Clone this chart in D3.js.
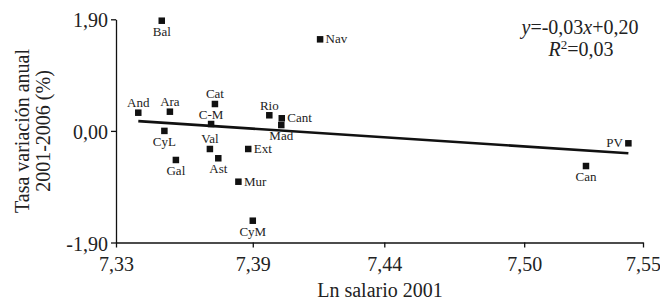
<!DOCTYPE html>
<html><head><meta charset="utf-8">
<script src="https://cdn.jsdelivr.net/npm/d3@7"></script>
<style>
html,body{margin:0;padding:0;background:#fff;}
svg{display:block;font-family:"Liberation Serif","Times New Roman",serif;}
</style></head><body>
<svg id="chart" width="660" height="302"></svg>
<script>
// ---- data ----
const regions   = ["And","Ara","Ast","Bal","Can","Cant","CyL","C-M","Cat","Val","Ext","Gal","Mad","Mur","Nav","PV","Rio","CyM"];
const lnSalary  = [7.3393,7.3525,7.3727,7.3491,7.5262,7.3992,7.3502,7.3697,7.3713,7.3692,7.3852,7.3550,7.3990,7.3811,7.4152,7.5439,7.3940,7.3871];
const growth    = [0.31,0.327,-0.466,1.876,-0.598,0.215,0.00,0.117,0.458,-0.308,-0.308,-0.495,0.100,-0.865,1.559,-0.211,0.266,-1.529];
const labelSide = ["above","above","below","below","below","right","below","above","above","above","right","below","below","right","right","left","above","below"];
const xTickValues = [7.33, 7.3871, 7.4420, 7.5004, 7.55];
const xTickLabels = ["7,33","7,39","7,44","7,50","7,55"];
const yTickValues = [-1.9, 0, 1.9];
const yTickLabels = ["-1,90","0,00","1,90"];
const xTitle = "Ln salario 2001";
const yTitle = ["Tasa variación anual","2001-2006 (%)"];

// ---- chart ----
const svg = d3.select("#chart");
const x = d3.scaleLinear().domain([7.33, 7.55]).range([116, 643]);
const y = d3.scaleLinear().domain([-1.9, 1.9]).range([242.5, 19.3]);

const gx = svg.append("g").attr("transform", `translate(0,${y(-1.9)})`)
  .call(d3.axisBottom(x).tickValues(xTickValues).tickSize(5).tickSizeOuter(0)
    .tickFormat((d,i)=>xTickLabels[i]));
gx.selectAll("text").attr("y", 28.5).attr("dy", 0).attr("font-size", 20)
  .attr("fill","#222").attr("font-family", '"Liberation Serif",serif');

const gy = svg.append("g").attr("transform", `translate(${x(7.33)},0)`)
  .call(d3.axisLeft(y).tickValues(yTickValues).tickSize(5).tickSizeOuter(0)
    .tickFormat((d,i)=>yTickLabels[i]));
gy.selectAll("text").attr("x", -8).attr("dy", "0.38em").attr("font-size", 20)
  .attr("fill","#222").attr("font-family", '"Liberation Serif",serif');

svg.selectAll(".domain, .tick line").attr("stroke", "#111").attr("stroke-width", 1.3);

// axis titles
svg.append("text").attr("x", 380).attr("y", 297).attr("text-anchor", "middle")
  .attr("font-size", 20).attr("fill", "#222").text(xTitle);
const yt = svg.append("text").attr("transform", "translate(29,131) rotate(-90)")
  .attr("text-anchor", "middle").attr("font-size", 20).attr("fill", "#222");
yt.selectAll("tspan").data(yTitle).join("tspan")
  .attr("x", 0).attr("dy", (d,i)=> i ? 21 : 0).text(d=>d);

// regression line (OLS from data)
const n = lnSalary.length;
const mx = d3.mean(lnSalary), my = d3.mean(growth);
let sxy = 0, sxx = 0;
for (let i = 0; i < n; i++) { sxy += (lnSalary[i]-mx)*(growth[i]-my); sxx += (lnSalary[i]-mx)**2; }
const slope = sxy / sxx, icpt = my - slope*mx;
const [xmin, xmax] = d3.extent(lnSalary);
svg.append("line")
  .attr("x1", x(xmin)).attr("y1", y(icpt + slope*xmin))
  .attr("x2", x(xmax)).attr("y2", y(icpt + slope*xmax))
  .attr("stroke", "#111").attr("stroke-width", 2.6);

// points
const pts = regions.map((r,i)=>({r, xv: lnSalary[i], yv: growth[i], side: labelSide[i]}));
const s = 6.5;
svg.append("g").selectAll("rect").data(pts).join("rect")
  .attr("x", d=>x(d.xv)-s/2).attr("y", d=>y(d.yv)-s/2)
  .attr("width", s).attr("height", s).attr("fill", "#111");

svg.append("g").selectAll("text").data(pts).join("text")
  .attr("font-size", 13).attr("fill", "#222")
  .attr("text-anchor", d=> d.side==="right" ? "start" : d.side==="left" ? "end" : "middle")
  .attr("x", d=> x(d.xv) + (d.side==="right" ? 5.5 : d.side==="left" ? -5.5 : 0))
  .attr("y", d=> y(d.yv) + (d.side==="above" ? -5.5 : d.side==="below" ? 15 : 4))
  .text(d=>d.r);

// equation
const eq = svg.append("text").attr("x", 580).attr("y", 34).attr("text-anchor","middle")
  .attr("font-size", 20).attr("fill","#222");
eq.append("tspan").attr("font-style","italic").text("y");
eq.append("tspan").text("=-0,03");
eq.append("tspan").attr("font-style","italic").text("x");
eq.append("tspan").text("+0,20");
const r2 = svg.append("text").attr("x", 581).attr("y", 56).attr("text-anchor","middle")
  .attr("font-size", 20).attr("fill","#222");
r2.append("tspan").attr("font-style","italic").text("R");
r2.append("tspan").attr("font-size", 13).attr("dy", -7).text("2");
r2.append("tspan").attr("dy", 7).text("=0,03");
</script>
</body></html>
